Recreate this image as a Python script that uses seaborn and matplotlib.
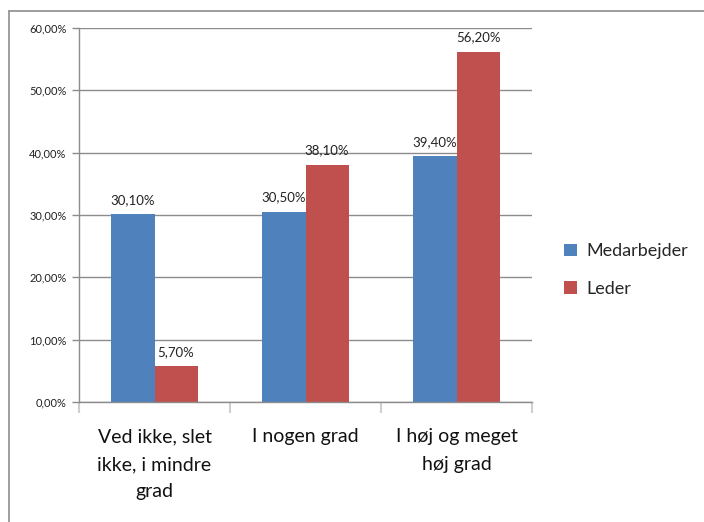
import numpy as np
import pandas as pd
import matplotlib
matplotlib.use('Agg')
import matplotlib.pyplot as plt
from matplotlib.lines import Line2D
from matplotlib.patches import Patch
import matplotlib.ticker as ticker
import seaborn as sns

# data
categories = ['Ved ikke, slet\nikke, i mindre\ngrad', 'I nogen grad', 'I høj og meget\nhøj grad']
series = ['Medarbejder', 'Leder']
medarbejder = [30.1, 30.5, 39.4]
leder = [5.7, 38.1, 56.2]
colors = ['#4F81BD', '#C0504D']

df = pd.DataFrame({
    'kategori': categories * 2,
    'gruppe': [series[0]] * 3 + [series[1]] * 3,
    'andel': medarbejder + leder,
})

sns.set_style('white')
plt.rcParams['font.family'] = ['Lato', 'DejaVu Sans']

fig = plt.figure(figsize=(7.04, 5.22), dpi=100)
ax = fig.add_axes([79 / 704, 120 / 522, 453 / 704, 374 / 522])

sns.barplot(data=df, x='kategori', y='andel', hue='gruppe', order=categories,
            hue_order=series, palette=colors, width=0.57, gap=0,
            saturation=1, ax=ax, legend=False, edgecolor='none')

ax.set_xlim(-0.5, 2.5)
ax.set_ylim(0, 60)
ax.set_yticks(np.arange(0, 61, 10))
ax.yaxis.set_major_formatter(ticker.FuncFormatter(lambda v, p: f'{v:.2f}%'.replace('.', ',')))
ax.grid(axis='y', color='#8c8c8c', linewidth=1)
ax.set_axisbelow(True)
for s in ['top', 'right']:
    ax.spines[s].set_visible(False)
for s in ['left', 'bottom']:
    ax.spines[s].set_color('#8c8c8c')
    ax.spines[s].set_linewidth(1)

ax.set_xlabel('')
ax.set_ylabel('')
ax.tick_params(axis='y', length=5, color='#8c8c8c', width=1, labelsize=8,
               labelcolor='#222222', left=True, pad=4)
ax.set_xticks([0, 1, 2])
ax.set_xticklabels(categories, fontsize=14, linespacing=1.75, color='#111111')
ax.tick_params(axis='x', length=0, pad=19)
ax.set_xticks([-0.5, 0.5, 1.5, 2.5], minor=True)
ax.tick_params(axis='x', which='minor', length=8, color='#d0d0d0', width=1.5, bottom=True)

# data labels
for cont in ax.containers:
    ax.bar_label(cont, labels=[f'{v:.2f}%'.replace('.', ',') for v in cont.datavalues],
                 padding=6, fontsize=9.5, color='#222222')

# legend
handles = [Patch(facecolor=c, edgecolor='none') for c in colors]
fig.legend(handles, series, loc='center left', bbox_to_anchor=(548 / 704, 1 - 270 / 522),
           frameon=False, fontsize=13, handlelength=0.7, handleheight=0.7,
           handletextpad=0.5, labelspacing=1.2)

# chart frame (left and top edges visible)
fig.add_artist(Line2D([9 / 704, 9 / 704], [0, 1 - 11 / 522], color='#8c8c8c', linewidth=1.2))
fig.add_artist(Line2D([9 / 704, 1], [1 - 11 / 522, 1 - 11 / 522], color='#8c8c8c', linewidth=1.2))

fig.savefig('out.png', dpi=100)
